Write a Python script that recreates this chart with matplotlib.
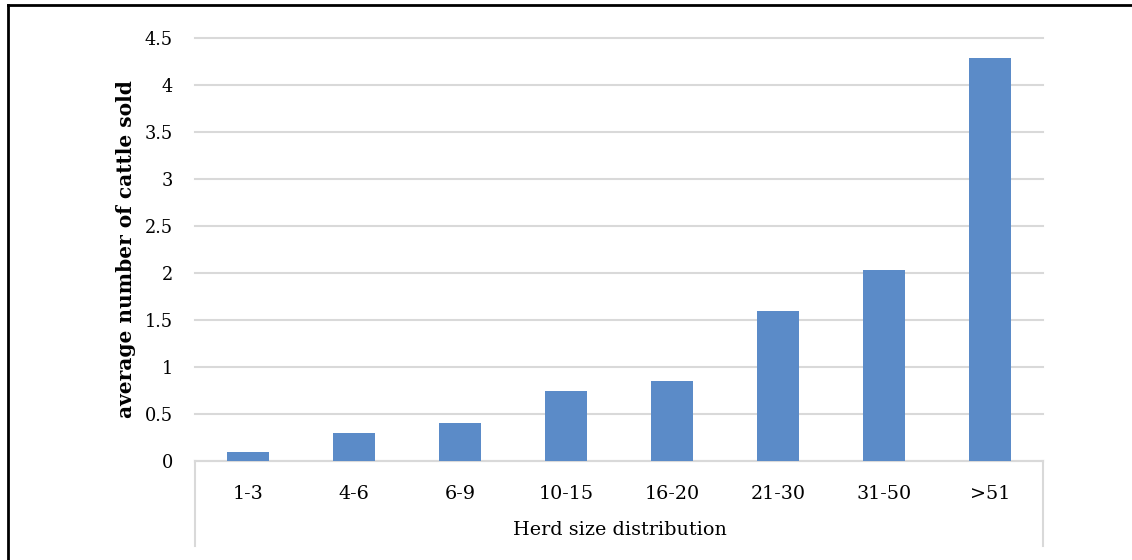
import matplotlib.pyplot as plt
from matplotlib.lines import Line2D

categories = ["1-3", "4-6", "6-9", "10-15", "16-20", "21-30", "31-50", ">51"]
avg_sold = [0.10, 0.30, 0.40, 0.75, 0.85, 1.60, 2.03, 4.29]
y_ticks = [0, 0.5, 1, 1.5, 2, 2.5, 3, 3.5, 4, 4.5]
y_tick_labels = ["0", "0.5", "1", "1.5", "2", "2.5", "3", "3.5", "4", "4.5"]

W, H = 1132, 560
plt.rcParams["font.family"] = ["DejaVu Serif"]

fig = plt.figure(figsize=(W / 100, H / 100), dpi=100)
ax = fig.add_axes([195 / W, 1 - 461 / H, (1043 - 195) / W, (461 - 38) / H])

x = range(len(categories))
ax.bar(x, avg_sold, width=0.4, color="#5b8bc8", zorder=3)

ax.set_xlim(-0.5, len(categories) - 0.5)
ax.set_ylim(0, 4.5)
ax.set_yticks(y_ticks)
ax.set_yticklabels(y_tick_labels, fontsize=12.8)
ax.set_xticks(list(x))
ax.set_xticklabels(categories, fontsize=13.8)
ax.tick_params(axis="both", length=0)
ax.tick_params(axis="y", pad=16)
ax.tick_params(axis="x", pad=17)

ax.grid(axis="y", color="#d9d9d9", linewidth=1.5, zorder=0)
for line in ax.get_ygridlines():
    line.set_clip_on(False)
for side in ["top", "right", "left"]:
    ax.spines[side].set_visible(False)
ax.spines["bottom"].set_color("#d9d9d9")
ax.spines["bottom"].set_linewidth(1.5)

# category box below the baseline
drop = -85 / (461 - 38)
for xpos in (0, 1):
    ax.add_line(Line2D([xpos, xpos], [0, drop], transform=ax.transAxes,
                       color="#d9d9d9", linewidth=1.5, clip_on=False))

ax.set_ylabel("average number of cattle sold", fontsize=14.5, fontweight="bold")
ax.yaxis.set_label_coords(-(195 - 136) / (1043 - 195), 0.5)
fig.text(620 / W, 1 - 530 / H, "Herd size distribution", fontsize=13.8,
         ha="center", va="center")

# outer frame (left and top edges)
fig.add_artist(Line2D([8 / W, 8 / W], [0, 1 - 5 / H], color="black", linewidth=2))
fig.add_artist(Line2D([8 / W, 1], [1 - 5 / H, 1 - 5 / H], color="black", linewidth=2))

fig.savefig("out.png", dpi=100)
